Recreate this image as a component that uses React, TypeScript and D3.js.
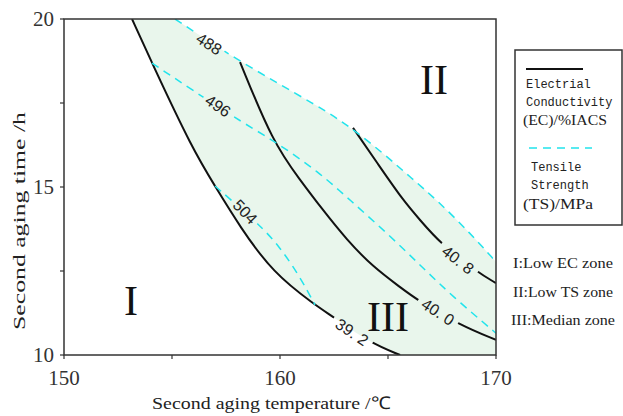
import React from 'react';
import * as d3 from 'd3';

// ---- axes ----
const xTicks = [150, 160, 170];
const xMinorTicks = [155, 165];
const yTicks = [10, 15, 20];
const yMinorTicks = [12.5, 17.5];

// ---- Electrical conductivity contours (temperature °C, time h) ----
const ec392Temp = [153.15, 154.07, 155.97, 156.99, 158.15, 159.68, 161.62, 162.41, 164.17, 165.56];
const ec392Time = [20.0, 18.69, 16.1, 15.03, 13.81, 12.44, 11.49, 11.16, 10.36, 10.0];
const ec400Temp = [158.15, 159.68, 160.93, 161.94, 163.1, 164.31, 165.56, 166.34, 168.33, 170.0];
const ec400Time = [18.72, 16.31, 15.21, 14.35, 13.42, 12.62, 12.02, 11.64, 10.89, 10.45];
const ec408Temp = [163.38, 164.54, 165.69, 166.48, 167.41, 169.12, 170.0];
const ec408Time = [16.76, 15.68, 14.61, 14.02, 13.33, 12.47, 12.14];

// ---- Tensile strength contours ----
const ts488Temp = [155.14, 158.15, 161.85, 163.24, 164.77, 166.02, 167.27, 168.8, 170.0];
const ts488Time = [20.0, 18.72, 17.38, 16.79, 16.01, 15.3, 14.61, 13.63, 12.77];
const ts496Temp = [154.07, 157.82, 159.68, 161.85, 163.24, 164.95, 166.48, 168.01, 170.0];
const ts496Time = [18.69, 17.08, 16.4, 15.42, 14.61, 13.63, 12.68, 11.73, 10.65];
const ts504Temp = [156.99, 159.07, 160.0, 160.93, 161.62];
const ts504Time = [15.03, 13.87, 13.21, 12.32, 11.49];

// ---- contour labels ----
const labelTexts = ['488', '496', '504', '39. 2', '40. 0', '40. 8'];
const labelTemp = [156.71, 157.13, 158.38, 163.33, 167.31, 168.24];
const labelTime = [19.26, 17.41, 14.26, 10.68, 11.28, 12.83];
const labelAngle = [33, 34, 46, 34, 33, 38];
const labelCurve = ['ts488', 'ts496', 'ts504', 'ec392', 'ec400', 'ec408'];

const zoneTexts = ['I:Low EC zone', 'II:Low TS zone', 'III:Median zone'];

const zip = (a: number[], b: number[]): [number, number][] => a.map((v, i) => [v, b[i]]);

const W = 623;
const H = 416;
const CYAN = '#22e4ec';
const FILL = '#e9f6ec';
const AXIS = '#333';

export default function App() {
  const x = d3.scaleLinear().domain([150, 170]).range([64, 496]);
  const y = d3.scaleLinear().domain([10, 20]).range([355, 19]);
  const line = d3
    .line<[number, number]>()
    .x((d) => x(d[0]))
    .y((d) => y(d[1]))
    .curve(d3.curveBasis);

  const curves: { key: string; pts: [number, number][]; ec: boolean }[] = [
    { key: 'ec392', pts: zip(ec392Temp, ec392Time), ec: true },
    { key: 'ec400', pts: zip(ec400Temp, ec400Time), ec: true },
    { key: 'ec408', pts: zip(ec408Temp, ec408Time), ec: true },
    { key: 'ts488', pts: zip(ts488Temp, ts488Time), ec: false },
    { key: 'ts496', pts: zip(ts496Temp, ts496Time), ec: false },
    { key: 'ts504', pts: zip(ts504Temp, ts504Time), ec: false },
  ];

  const p1 = line(zip(ec392Temp, ec392Time)) || '';
  const p2 = line(zip(ts488Temp, ts488Time).reverse()) || '';
  const fillD = p1 + `L${x(170)},${y(10)}` + p2.replace(/^M/, 'L') + 'Z';

  const labels = labelTexts.map((t, i) => ({
    text: t,
    px: x(labelTemp[i]),
    py: y(labelTime[i]),
    angle: labelAngle[i],
    curve: labelCurve[i],
    gap: t.length > 3 ? 46 : 34,
  }));

  const x0 = x(150), x1 = x(170), y0 = y(10), y1 = y(20);

  return (
    <svg
      width={W}
      height={H}
      viewBox={`0 0 ${W} ${H}`}
      style={{ position: 'absolute', left: 0, top: 0, background: '#fff' }}
    >
      <defs>
        <clipPath id="plotClip">
          <rect x={x0} y={y1} width={x1 - x0} height={y0 - y1} />
        </clipPath>
        {curves.map((c) => (
          <mask id={`m-${c.key}`} key={c.key} maskUnits="userSpaceOnUse" x={0} y={0} width={W} height={H}>
            <rect x={0} y={0} width={W} height={H} fill="#fff" />
            {labels
              .filter((l) => l.curve === c.key)
              .map((l, i) => (
                <rect
                  key={i}
                  x={-l.gap / 2}
                  y={-8}
                  width={l.gap}
                  height={16}
                  fill="#000"
                  transform={`translate(${l.px},${l.py}) rotate(${l.angle})`}
                />
              ))}
          </mask>
        ))}
      </defs>

      {/* median zone fill */}
      <path d={fillD} fill={FILL} stroke="none" clipPath="url(#plotClip)" />

      {/* contours */}
      <g clipPath="url(#plotClip)">
        {curves.map((c) => (
          <path
            key={c.key}
            d={line(c.pts) || ''}
            fill="none"
            stroke={c.ec ? '#111' : CYAN}
            strokeWidth={c.ec ? 2 : 1.5}
            strokeDasharray={c.ec ? undefined : '8 6'}
            mask={`url(#m-${c.key})`}
          />
        ))}
      </g>

      {/* contour labels */}
      {labels.map((l, i) => (
        <text
          key={i}
          transform={`translate(${l.px},${l.py}) rotate(${l.angle})`}
          textAnchor="middle"
          dominantBaseline="central"
          fontFamily="'Liberation Sans', Arial, sans-serif"
          fontSize={16}
          fill="#222"
        >
          {l.text}
        </text>
      ))}

      {/* zone numerals */}
      <g fontFamily="'Liberation Serif', 'Times New Roman', serif" fontSize={42} fill="#111" textAnchor="middle">
        <text x={131} y={315}>I</text>
        <text x={434} y={94}>II</text>
        <text x={388} y={331}>III</text>
      </g>

      {/* frame */}
      <rect x={x0} y={y1} width={x1 - x0} height={y0 - y1} fill="none" stroke={AXIS} strokeWidth={1.5} />

      {/* x ticks */}
      {[...xTicks, ...xMinorTicks].map((t) => (
        <line key={`xt${t}`} x1={x(t)} x2={x(t)} y1={y0} y2={y0 + 4} stroke={AXIS} strokeWidth={1.2} />
      ))}
      {xTicks.map((t) => (
        <text
          key={`xl${t}`}
          x={x(t)}
          y={385}
          textAnchor="middle"
          fontFamily="'Liberation Serif', 'Times New Roman', serif"
          fontSize={21}
          fill="#333"
        >
          {t}
        </text>
      ))}

      {/* y ticks */}
      {[...yTicks, ...yMinorTicks].map((t) => (
        <line key={`yt${t}`} x1={x0 - 4} x2={x0} y1={y(t)} y2={y(t)} stroke={AXIS} strokeWidth={1.2} />
      ))}
      {yTicks.map((t) => (
        <text
          key={`yl${t}`}
          x={54}
          y={y(t)}
          dy="0.35em"
          textAnchor="end"
          fontFamily="'Liberation Serif', 'Times New Roman', serif"
          fontSize={21}
          fill="#333"
        >
          {t}
        </text>
      ))}

      {/* axis titles */}
      <text
        x={271}
        y={409}
        textAnchor="middle"
        fontFamily="'Liberation Serif', 'Times New Roman', serif"
        fontSize={17.5}
        fill="#222"
        textLength={238}
        lengthAdjust="spacingAndGlyphs"
      >
        Second aging temperature /℃
      </text>
      <text
        transform="translate(25,221) rotate(-90)"
        textAnchor="middle"
        fontFamily="'Liberation Serif', 'Times New Roman', serif"
        fontSize={17.5}
        fill="#222"
        textLength={218}
        lengthAdjust="spacingAndGlyphs"
      >
        Second aging time /h
      </text>

      {/* legend */}
      <rect x={515} y={50} width={107} height={175} fill="#fff" stroke={AXIS} strokeWidth={1.5} />
      <line x1={526} x2={583} y1={69} y2={69} stroke="#111" strokeWidth={2} />
      <g fontFamily="'Liberation Mono', 'DejaVu Sans Mono', monospace" fontSize={12} fill="#222">
        <text x={526} y={88}>Electrial</text>
        <text x={526} y={106}>Conductivity</text>
        <text x={531} y={171}>Tensile</text>
        <text x={531} y={189}>Strength</text>
      </g>
      <g fontFamily="'Liberation Serif', 'Times New Roman', serif" fontSize={15} fill="#222">
        <text x={523} y={125} textLength={84} lengthAdjust="spacingAndGlyphs">(EC)/%IACS</text>
        <text x={523} y={209} textLength={70} lengthAdjust="spacingAndGlyphs">(TS)/MPa</text>
      </g>
      <line x1={529} x2={592} y1={148} y2={148} stroke={CYAN} strokeWidth={1.5} strokeDasharray="8 6" />

      {/* zone descriptions */}
      <g fontFamily="'Liberation Serif', 'Times New Roman', serif" fontSize={15} fill="#222">
        {zoneTexts.map((t, i) => (
          <text
            key={t}
            x={i === 2 ? 511 : 513}
            y={268 + i * 28.5}
            textLength={i === 2 ? 104 : 100}
            lengthAdjust="spacingAndGlyphs"
          >
            {t}
          </text>
        ))}
      </g>
    </svg>
  );
}
